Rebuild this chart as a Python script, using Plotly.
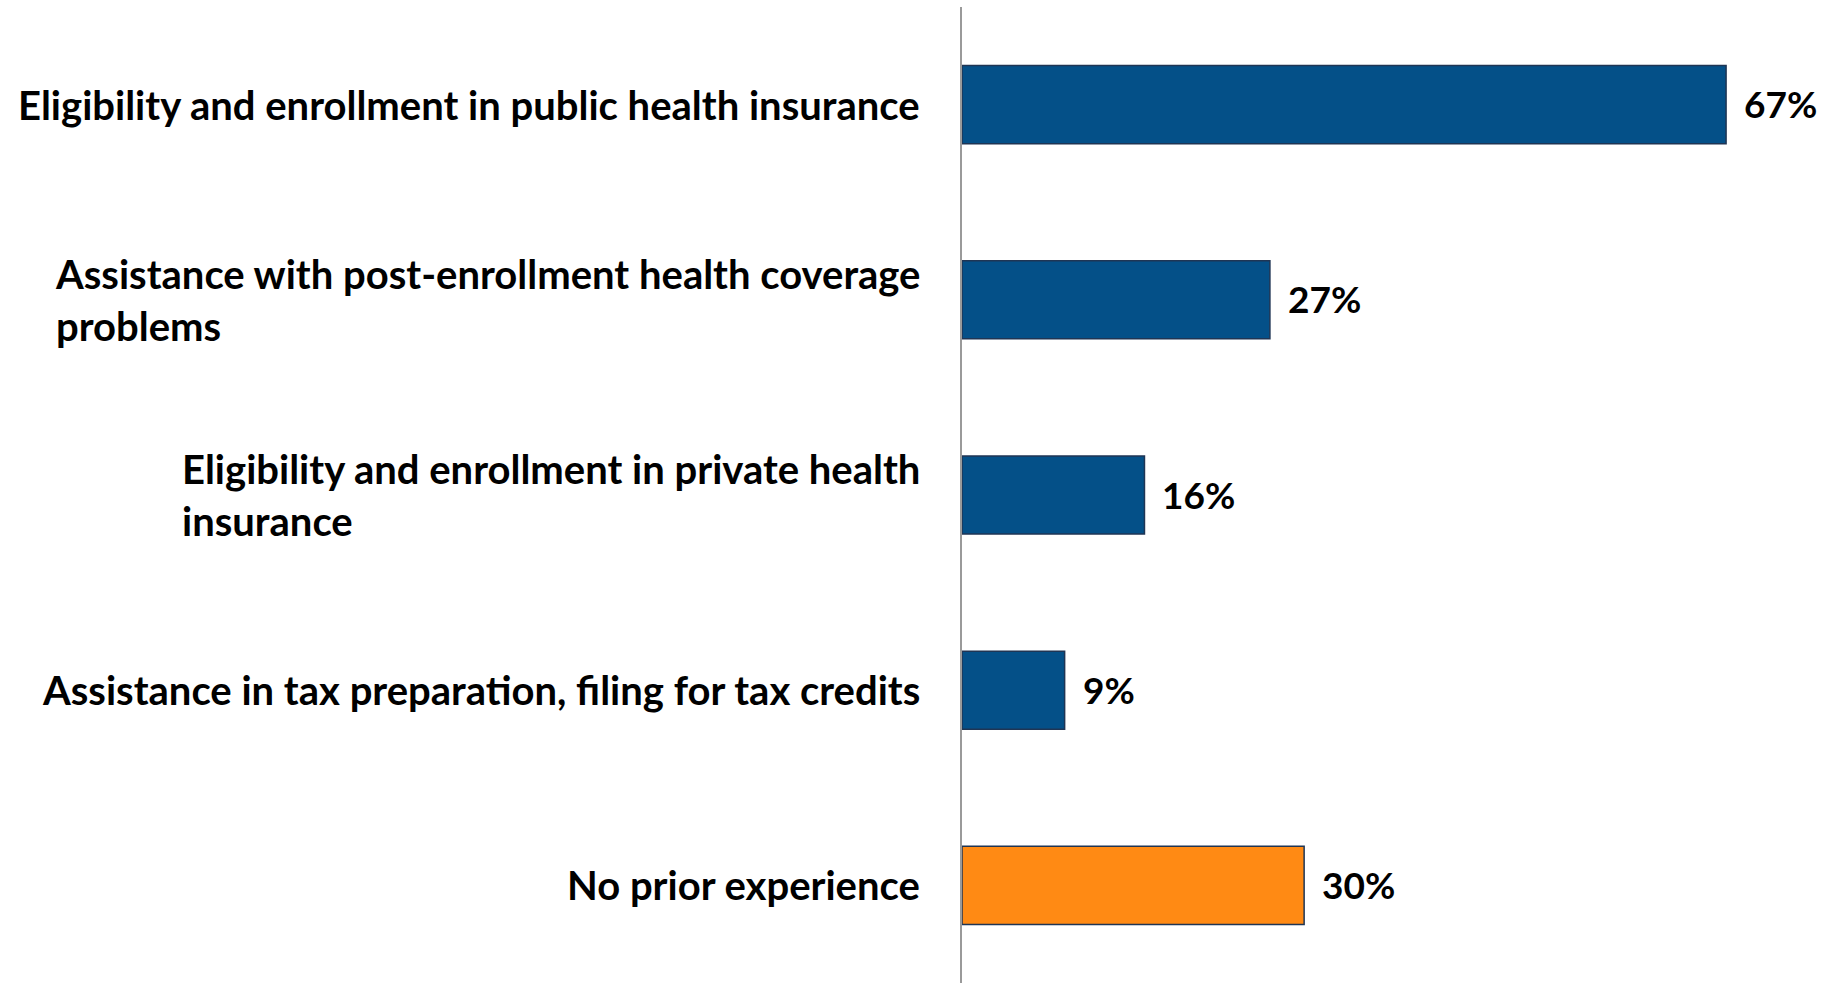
import plotly.graph_objects as go

categories = [
    "Eligibility and enrollment in public health insurance",
    "Assistance with post-enrollment health coverage<br>problems",
    "Eligibility and enrollment in private health<br>insurance",
    "Assistance in tax preparation, filing for tax credits",
    "No prior experience",
]
values = [67, 27, 16, 9, 30]
bar_colors = ["#045088", "#045088", "#045088", "#045088", "#FF8A14"]

FONT = "Lato"
LABEL_SIZE = 40
VALUE_SIZE = 37
LABEL_PAD = 40  # gap between label block and the axis line
VALUE_PAD = 16  # gap between bar end and its value label

fig = go.Figure(
    go.Bar(
        x=values,
        y=categories,
        orientation="h",
        marker=dict(color=bar_colors, line=dict(color="#1F3554", width=1.5)),
        hoverinfo="x+y",
    )
)

annotations = []
for cat, val in zip(categories, values):
    # category label: block right-aligned to the axis, lines left-aligned
    annotations.append(
        dict(
            x=0, y=cat, xref="x", yref="y",
            text=cat, showarrow=False,
            xanchor="right", yanchor="middle", align="left",
            xshift=-LABEL_PAD,
            font=dict(family=FONT, size=LABEL_SIZE, color="#000000", weight="bold"),
        )
    )
    # value label just past the end of the bar
    annotations.append(
        dict(
            x=val, y=cat, xref="x", yref="y",
            text=f"{val}%", showarrow=False,
            xanchor="left", yanchor="middle", xshift=VALUE_PAD, yshift=1,
            font=dict(family=FONT, size=VALUE_SIZE, color="#000000", weight="bold"),
        )
    )

fig.update_layout(
    width=1831,
    height=983,
    margin=dict(l=962, r=0, t=7, b=0),
    paper_bgcolor="white",
    plot_bgcolor="white",
    bargap=0.6,
    showlegend=False,
    annotations=annotations,
    xaxis=dict(range=[0, 76.2], visible=False, fixedrange=True),
    yaxis=dict(
        autorange="reversed",
        showticklabels=False,
        ticks="",
        showgrid=False,
        zeroline=False,
        showline=True,
        linecolor="#9A9A9A",
        linewidth=1.5,
        fixedrange=True,
    ),
)

fig.write_html("out.html")
